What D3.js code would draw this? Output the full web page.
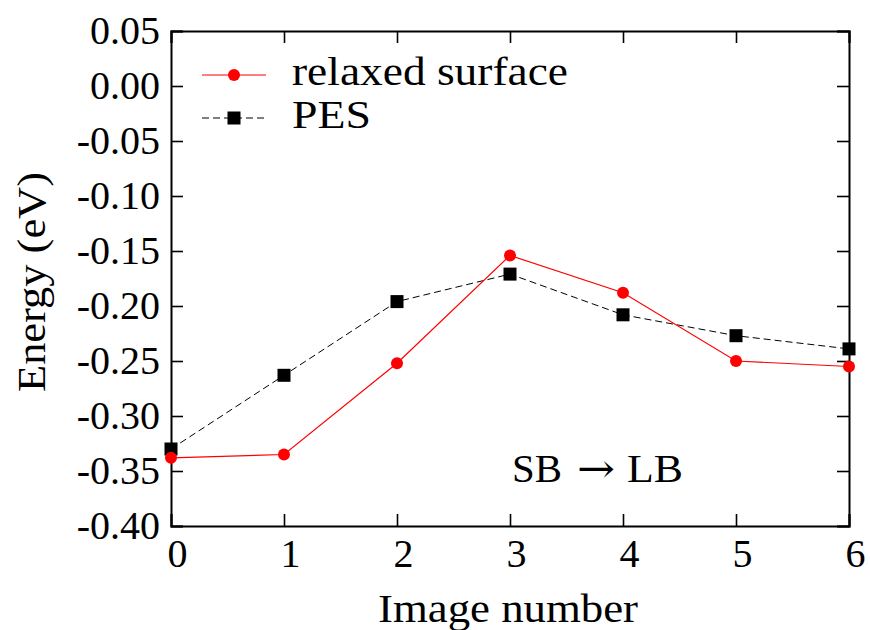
<!DOCTYPE html>
<html>
<head>
<meta charset="utf-8">
<script src="https://cdn.jsdelivr.net/npm/d3@7"></script>
<style>
  body { margin: 0; background: #fff; }
  text { font-family: "Liberation Serif", "DejaVu Serif", serif; fill: #000; }
</style>
</head>
<body>
<div id="chart"></div>
<script>
var images = [0, 1, 2, 3, 4, 5, 6]
var relaxed = [-0.338, -0.335, -0.252, -0.154, -0.188, -0.250, -0.255]
var pes = [-0.330, -0.263, -0.196, -0.171, -0.208, -0.227, -0.239]
var yTicks = [0.05, 0.00, -0.05, -0.10, -0.15, -0.20, -0.25, -0.30, -0.35, -0.40]

var width = 870, height = 630
var margin = {left: 171, right: 21, top: 31, bottom: 104}

var svg = d3.select("#chart").append("svg")
    .attr("width", width)
    .attr("height", height)

var x = d3.scaleLinear().domain([0, 6]).range([margin.left, width - margin.right])
var y = d3.scaleLinear().domain([-0.40, 0.05]).range([height - margin.bottom, margin.top])

var fmt = function(d) { return d3.format(".2f")(d).replace("−", "-") }

// axes, ticks pointing inward on all four sides
var g = svg.append("g")
var xb = g.append("g").attr("transform", "translate(0," + y(-0.40) + ")")
  .call(d3.axisBottom(x).tickValues(images).tickSize(-12).tickPadding(16).tickFormat(d3.format("d")))
xb.selectAll(".tick text").attr("dx", 6).attr("dy", "0.62em")
g.append("g").attr("transform", "translate(0," + y(0.05) + ")")
  .call(d3.axisTop(x).tickValues(images).tickSize(-12).tickFormat(""))
g.append("g").attr("transform", "translate(" + x(0) + ",0)")
  .call(d3.axisLeft(y).tickValues(yTicks).tickSize(-12).tickPadding(11).tickFormat(fmt))
g.append("g").attr("transform", "translate(" + x(6) + ",0)")
  .call(d3.axisRight(y).tickValues(yTicks).tickSize(-12).tickFormat(""))

g.selectAll(".domain").attr("stroke", "#000").attr("stroke-width", 2)
g.selectAll(".tick line").attr("stroke", "#000").attr("stroke-width", 1.6)
g.selectAll(".tick text").style("font-size", "40px").style("font-family", "Liberation Serif, serif")

// series
var line = d3.line().x(function(d, i) { return x(images[i]) }).y(function(d) { return y(d) })

svg.append("path").datum(pes)
  .attr("d", line).attr("fill", "none").attr("stroke", "#000")
  .attr("stroke-width", 1).attr("stroke-dasharray", "7,4")
svg.append("path").datum(relaxed)
  .attr("d", line).attr("fill", "none").attr("stroke", "#ff0000").attr("stroke-width", 1.2)

svg.selectAll(".sq").data(pes).enter().append("rect")
  .attr("x", function(d, i) { return x(images[i]) - 6.5 })
  .attr("y", function(d) { return y(d) - 6.5 })
  .attr("width", 13).attr("height", 13).attr("fill", "#000")
svg.selectAll(".dot").data(relaxed).enter().append("circle")
  .attr("cx", function(d, i) { return x(images[i]) })
  .attr("cy", function(d) { return y(d) })
  .attr("r", 6).attr("fill", "#ff0000")

// legend
var legend = svg.append("g").attr("transform", "translate(202,75)")
legend.append("line").attr("x1", 0).attr("x2", 64).attr("y1", 0).attr("y2", 0)
  .attr("stroke", "#ff0000").attr("stroke-width", 1.2)
legend.append("circle").attr("cx", 32).attr("cy", 0).attr("r", 6).attr("fill", "#ff0000")
legend.append("text").attr("x", 90).attr("y", 10).style("font-size", "40px")
  .attr("textLength", 276).attr("lengthAdjust", "spacingAndGlyphs").text("relaxed surface")
legend.append("line").attr("x1", 0).attr("x2", 64).attr("y1", 43).attr("y2", 43)
  .attr("stroke", "#000").attr("stroke-width", 1).attr("stroke-dasharray", "7,4")
legend.append("rect").attr("x", 25.5).attr("y", 36.5).attr("width", 13).attr("height", 13).attr("fill", "#000")
legend.append("text").attr("x", 90).attr("y", 53).style("font-size", "40px")
  .attr("textLength", 79).attr("lengthAdjust", "spacingAndGlyphs").text("PES")

// annotation: SB -> LB, long arrow drawn as its own glyph
var ann = svg.append("g")
ann.append("text").attr("x", 512).attr("y", 482).style("font-size", "40px")
  .attr("textLength", 50).attr("lengthAdjust", "spacingAndGlyphs").text("SB")
ann.append("text").attr("x", 577).attr("y", 482).style("font-size", "40px")
  .style("font-family", "DejaVu Serif, serif")
  .attr("textLength", 38).attr("lengthAdjust", "spacingAndGlyphs").text("\u2192")
ann.append("text").attr("x", 627).attr("y", 482).style("font-size", "40px")
  .attr("textLength", 56).attr("lengthAdjust", "spacingAndGlyphs").text("LB")

// axis titles
svg.append("text").attr("x", 378).attr("y", 622).style("font-size", "40px")
  .attr("textLength", 260).attr("lengthAdjust", "spacingAndGlyphs").text("Image number")
svg.append("text").attr("transform", "translate(45,392) rotate(-90)")
  .style("font-size", "40px")
  .attr("textLength", 220).attr("lengthAdjust", "spacingAndGlyphs").text("Energy (eV)")
</script>
</body>
</html>
